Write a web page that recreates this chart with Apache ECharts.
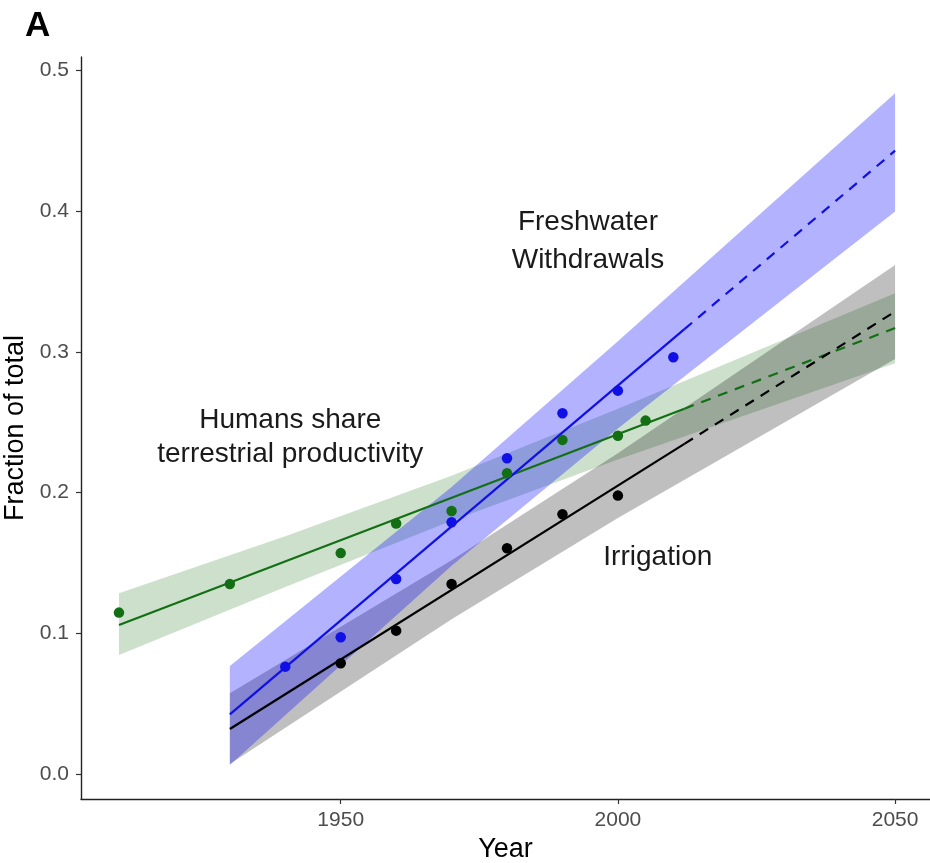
<!DOCTYPE html>
<html>
<head>
<meta charset="utf-8">
<script src="https://cdn.jsdelivr.net/npm/echarts@6/dist/echarts.min.js"></script>
<style>
html,body{margin:0;padding:0;background:#fff;}
#chart{width:930px;height:863px;}
</style>
</head>
<body>
<div id="chart"></div>
<script>
// ---- data ----
const xTicks = [1950, 2000, 2050];
const yTicks = [0.0, 0.1, 0.2, 0.3, 0.4, 0.5];

// observed points
const greenPts = [[1910,0.1147],[1930,0.135],[1950,0.157],[1960,0.178],[1970,0.187],[1980,0.2138],[1990,0.2375],[2000,0.2405],[2005,0.2512]];
const bluePts  = [[1940,0.0763],[1950,0.0972],[1960,0.1386],[1970,0.179],[1980,0.2244],[1990,0.2564],[2000,0.2725],[2010,0.2962]];
const blackPts = [[1950,0.0787],[1960,0.1019],[1970,0.135],[1980,0.1605],[1990,0.1846],[2000,0.1979]];

// fitted lines: solid part and dashed projection
const greenFitSolid  = [[1910,0.1059],[2012,0.2597]];
const greenFitDashed = [[2012,0.2597],[2050,0.317]];
const blueFitSolid   = [[1930,0.0424],[2012,0.3162]];
const blueFitDashed  = [[2012,0.3162],[2050,0.4431]];
const blackFitSolid  = [[1930,0.032],[2012,0.2347]];
const blackFitDashed = [[2012,0.2347],[2050,0.3287]];

// confidence ribbons
const greenBandYears = [1910, 1940, 1970, 2000, 2050];
const greenBandLo    = [0.0846, 0.133, 0.180, 0.2236, 0.292];
const greenBandHi    = [0.1285, 0.169, 0.212, 0.2596, 0.3418];
const blueBandYears  = [1930, 1970, 2000, 2050];
const blueBandLo     = [0.0064, 0.148, 0.2456, 0.3998];
const blueBandHi     = [0.0768, 0.204, 0.3076, 0.4839];
const blackBandYears = [1930, 1970, 2000, 2050];
const blackBandLo    = [0.007, 0.1099, 0.182, 0.295];
const blackBandHi    = [0.0574, 0.152, 0.228, 0.3619];

// annotation anchors (data coordinates)
const annotationText = ['Freshwater\nWithdrawals', 'Humans share\nterrestrial productivity', 'Irrigation'];
const annotationPos  = [[1994.6, 0.379], [1940.9, 0.2396], [2007.2, 0.1543]];

const FONT = "'Liberation Sans', Arial, Helvetica, sans-serif";
const GREEN = '#136f13';
const BLUE = '#1010e6';
const BLACK = '#000000';

function bandSeries(years, lo, hi, fill){
  return {
    type:'custom',
    silent:true,
    z:1,
    data:[[years[0], lo[0]]],
    renderItem:function(params, api){
      const pts = [];
      for (let i=0;i<years.length;i++) pts.push(api.coord([years[i], hi[i]]));
      for (let i=years.length-1;i>=0;i--) pts.push(api.coord([years[i], lo[i]]));
      return {type:'polygon', shape:{points:pts}, style:{fill:fill, stroke:null}};
    }
  };
}
function lineSeries(data, color, dashed){
  return {
    type:'line', data:data, showSymbol:false, silent:true, z:3,
    lineStyle:{color:color, width:2.2, type: dashed ? [10,8] : 'solid'}
  };
}
function pointSeries(data, color){
  return {
    type:'scatter', data:data, symbolSize:10.5, z:4, silent:true,
    itemStyle:{color:color, opacity:1}
  };
}

const chart = echarts.init(document.getElementById('chart'), null, {renderer:'canvas'});
chart.setOption({
  animation:false,
  backgroundColor:'#ffffff',
  grid:{left:81, top:57, right:0, bottom:64, containLabel:false, outerBoundsMode:'none'},
  graphic:[{type:'text', left:25, top:9, style:{text:'A', font:"bold 35px "+FONT, fill:'#000'}}],
  xAxis:{
    type:'value', min:1903.15, max:2056.3,
    name:'Year', nameLocation:'middle', nameGap:37,
    nameTextStyle:{fontFamily:FONT, fontSize:27, color:'#000'},
    splitLine:{show:false},
    axisLine:{show:true, onZero:false, lineStyle:{color:'#222', width:1.4}},
    axisTick:{show:true, length:5, customValues:xTicks, lineStyle:{color:'#333', width:1.2}},
    axisLabel:{customValues:xTicks, margin:11, fontFamily:FONT, fontSize:21, color:'#4d4d4d',
      formatter:function(v){return String(Math.round(v));}}
  },
  yAxis:{
    type:'value', min:-0.0178, max:0.5097,
    name:'Fraction of total', nameLocation:'middle', nameGap:52, nameRotate:90,
    nameTextStyle:{fontFamily:FONT, fontSize:27, color:'#000'},
    splitLine:{show:false},
    axisLine:{show:true, onZero:false, lineStyle:{color:'#222', width:1.4}},
    axisTick:{show:true, length:5, customValues:yTicks, lineStyle:{color:'#333', width:1.2}},
    axisLabel:{customValues:yTicks, margin:12, fontFamily:FONT, fontSize:21, color:'#4d4d4d',
      formatter:function(v){return v.toFixed(1);}}
  },
  series:[
    bandSeries(greenBandYears, greenBandLo, greenBandHi, 'rgba(0,100,0,0.2)'),
    bandSeries(blackBandYears, blackBandLo, blackBandHi, 'rgba(0,0,0,0.25)'),
    bandSeries(blueBandYears, blueBandLo, blueBandHi, 'rgba(0,0,255,0.3)'),
    lineSeries(greenFitSolid, GREEN, false),
    lineSeries(greenFitDashed, GREEN, true),
    lineSeries(blackFitSolid, BLACK, false),
    lineSeries(blackFitDashed, BLACK, true),
    lineSeries(blueFitSolid, BLUE, false),
    lineSeries(blueFitDashed, BLUE, true),
    pointSeries(greenPts, GREEN),
    pointSeries(blackPts, BLACK),
    pointSeries(bluePts, BLUE),
    {
      type:'custom', silent:true, z:5,
      data:annotationPos,
      renderItem:function(params, api){
        const p = api.coord([api.value(0), api.value(1)]);
        const txt = annotationText[params.dataIndex];
        return {type:'text', x:p[0], y:p[1], style:{text:txt, fill:'#1a1a1a',
          font:"28px "+FONT, align:'center', verticalAlign:'middle',
          lineHeight: params.dataIndex === 0 ? 38 : 34}};
      }
    }
  ]
});
</script>
</body>
</html>
